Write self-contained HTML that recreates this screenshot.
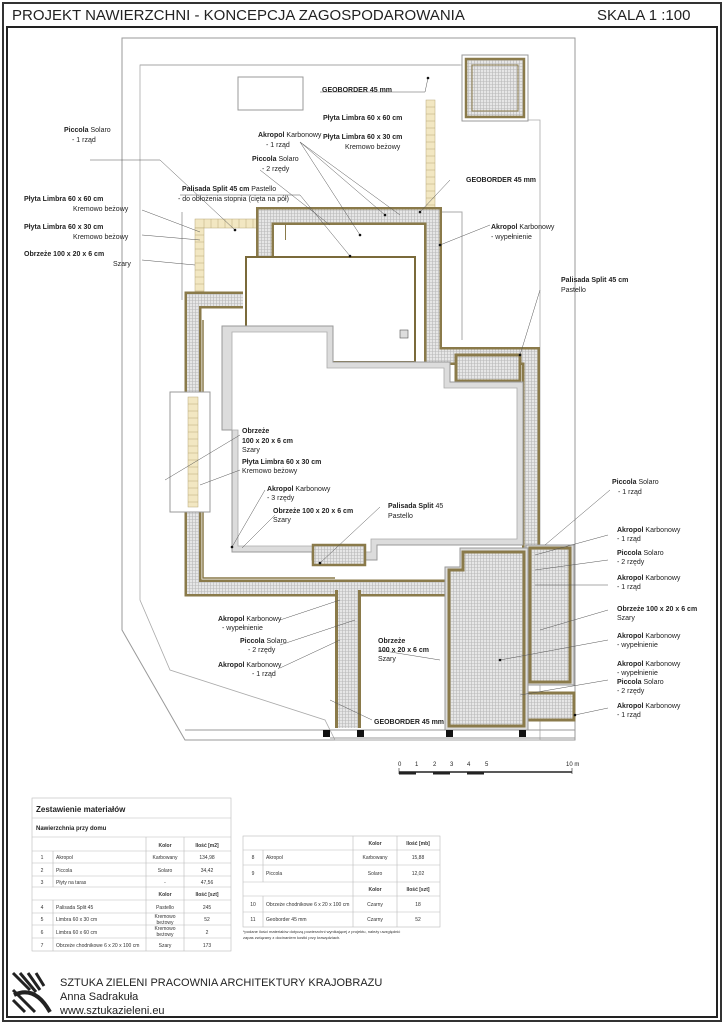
<!DOCTYPE html>
<html><head><meta charset="utf-8"><style>
body{margin:0;background:#fff;}
svg{display:block;font-family:"Liberation Sans",sans-serif;}
.l{font-size:7px;fill:#222}
.b{font-weight:bold}
.t{font-size:5px;fill:#333}
</style></head><body>
<svg width="724" height="1024" viewBox="0 0 724 1024">
<defs>
<pattern id="h" width="3" height="3" patternUnits="userSpaceOnUse">
<rect width="3" height="3" fill="#e6e6e6"/><path d="M0 0.5H3M0.5 0V3" stroke="#b8b8b8" stroke-width="0.6"/>
</pattern>
</defs>
<rect x="0" y="0" width="724" height="1024" fill="#fff"/>
<rect x="3" y="3" width="718" height="1018" fill="none" stroke="#333" stroke-width="2"/>
<rect x="7" y="27" width="710" height="990" fill="none" stroke="#222" stroke-width="2"/>
<text x="12" y="20" font-size="15" fill="#222">PROJEKT NAWIERZCHNI - KONCEPCJA ZAGOSPODAROWANIA</text>
<text x="597" y="20" font-size="15" fill="#222">SKALA 1 :100</text>

<!-- site outline -->
<polygon points="122,38 575,38 575,740 330,740 185,740 122,630" fill="none" stroke="#999" stroke-width="1"/>
<polyline points="140,65 460,65 M140,65" fill="none" stroke="#999"/>
<polygon points="140,65 462,65 462,120 540,120 540,740 335,740 325,720 170,670 140,600" fill="none" stroke="#aaa" stroke-width="0.8"/>
<rect x="238" y="77" width="65" height="33" fill="none" stroke="#999"/>
<rect x="440" y="212" width="22" height="0" stroke="#999"/>
<polyline points="437,212 462,212 462,340" fill="none" stroke="#aaa"/>
<polyline points="182,212 182,300" fill="none" stroke="#aaa"/>

<!-- top right terrace -->
<rect x="462" y="55" width="66" height="66" fill="#fff" stroke="#999"/>
<rect x="466" y="59" width="58" height="58" fill="url(#h)" stroke="#8a7a4a" stroke-width="2.5"/>
<rect x="472" y="65" width="46" height="46" fill="url(#h)" stroke="#8a7a4a" stroke-width="1"/>

<!-- beige tiles -->
<g fill="#f2e7c2" stroke="#b8a878" stroke-width="0.5">
<rect x="426" y="100" width="9" height="110" />
<rect x="195" y="219" width="68" height="9"/>
<rect x="195" y="228" width="9" height="72"/>
</g>
<g stroke="#b8a878" stroke-width="0.5">
<path d="M426 107H435M426 114H435M426 121H435M426 128H435M426 135H435M426 142H435M426 149H435M426 156H435M426 163H435M426 170H435M426 177H435M426 184H435M426 191H435M426 198H435M426 205H435"/>
<path d="M204 219V228M211 219V228M218 219V228M225 219V228M232 219V228M239 219V228M246 219V228M253 219V228"/>
<path d="M195 235H204M195 242H204M195 249H204M195 256H204M195 263H204M195 270H204M195 277H204M195 284H204M195 291H204"/>
</g>

<!-- main path band -->
<g fill="none" stroke-linejoin="miter">
<polyline points="265,298 265,216 433,216 433,356 531,356 531,548" stroke="#8a7a4a" stroke-width="18"/>
<polyline points="265,298 265,216 433,216 433,356 531,356 531,548" stroke="url(#h)" stroke-width="13"/>
<polyline points="286,240 286,225 418,225" stroke="#8a7a4a" stroke-width="2"/>
<polyline points="243,300 193,300 193,588 445,588" stroke="#8a7a4a" stroke-width="17"/>
<polyline points="243,300 193,300 193,588 445,588" stroke="url(#h)" stroke-width="12"/>
<polyline points="203,320 203,578 335,578" stroke="#8a7a4a" stroke-width="1.5"/>
<polyline points="348,590 348,728" stroke="#8a7a4a" stroke-width="26"/>
<polyline points="348,590 348,728" stroke="url(#h)" stroke-width="20"/>
</g>
<rect x="286" y="225" width="132" height="32" fill="#fff"/>
<polyline points="246,257 415,257 415,362" fill="none" stroke="#8a7a4a" stroke-width="2"/>
<rect x="246" y="257" width="169" height="105" fill="#fff" stroke="#7a6a3a" stroke-width="2"/>
<rect x="400" y="330" width="8" height="8" fill="#ddd" stroke="#555" stroke-width="0.6"/>
<rect x="456" y="355" width="64" height="26" fill="url(#h)" stroke="#8a7a4a" stroke-width="3"/>

<!-- left terrace -->
<rect x="170" y="392" width="40" height="120" fill="#fff" stroke="#999"/>
<rect x="188" y="397" width="10" height="110" fill="#f2e7c2" stroke="#b8a878" stroke-width="0.5"/>
<path d="M188 404H198M188 411H198M188 418H198M188 425H198M188 432H198M188 439H198M188 446H198M188 453H198M188 460H198M188 467H198M188 474H198M188 481H198M188 488H198M188 495H198M188 502H198" stroke="#b8a878" stroke-width="0.5"/>

<!-- house -->
<polygon points="222,326 333,326 333,362 450,362 450,382 523,382 523,545 377,545 377,560 312,560 312,552 232,552 232,430 222,430" fill="#dcdcdc" stroke="#999"/>
<polygon points="232,332 327,332 327,368 444,368 444,388 517,388 517,539 371,539 371,552 318,552 318,546 238,546 238,430 232,430" fill="#fff" stroke="#aaa" stroke-width="0.8"/>
<rect x="313" y="545" width="52" height="20" fill="url(#h)" stroke="#8a7a4a" stroke-width="2.5"/>

<!-- right terraces -->
<rect x="526" y="545" width="48" height="140" fill="#dcdcdc" stroke="#999"/>
<rect x="530" y="548" width="40" height="134" fill="url(#h)" stroke="#8a7a4a" stroke-width="3"/>
<rect x="524" y="693" width="50" height="27" fill="url(#h)" stroke="#8a7a4a" stroke-width="3"/>
<polygon points="445,567 460,567 460,548 528,548 528,730 445,730" fill="#dcdcdc" stroke="#999"/>
<polygon points="449,570 463,570 463,552 524,552 524,726 449,726" fill="url(#h)" stroke="#8a7a4a" stroke-width="3"/>
<line x1="185" y1="730" x2="575" y2="730" stroke="#999"/>
<line x1="330" y1="738" x2="575" y2="738" stroke="#999"/>
<g fill="#111"><rect x="323" y="730" width="7" height="7"/><rect x="357" y="730" width="7" height="7"/><rect x="446" y="730" width="7" height="7"/><rect x="519" y="730" width="7" height="7"/></g>

<!-- leaders -->
<g stroke="#555" stroke-width="0.5" fill="none">
<path d="M320 92H425L428 78"/>
<path d="M90 160L160 160L235 230"/>
<path d="M300 142L385 215M300 142L360 235M300 142L400 215"/>
<path d="M260 170L330 225"/>
<path d="M180 195H300L350 256"/>
<path d="M450 180L420 212"/>
<path d="M490 225L440 245"/>
<path d="M142 210L200 232M142 235L200 240M142 260L195 265"/>
<path d="M540 290L520 355"/>
<path d="M240 435L165 480M240 470L200 485"/>
<path d="M265 490L232 547M275 515L242 548"/>
<path d="M380 507L320 563"/>
<path d="M610 490L545 545M608 535L535 555M608 560L535 570M608 585L535 585M608 610L540 630M608 640L500 660M608 680L520 695M608 708L575 715"/>
<path d="M280 620L340 600M280 645L355 620M280 668L340 640"/>
<path d="M378 650L440 660"/>
<path d="M372 720L330 700"/>
</g>
<g fill="#111">
<circle cx="428" cy="78" r="1.3"/><circle cx="235" cy="230" r="1.3"/><circle cx="385" cy="215" r="1.3"/><circle cx="360" cy="235" r="1.3"/><circle cx="350" cy="256" r="1.3"/><circle cx="420" cy="212" r="1.3"/><circle cx="440" cy="245" r="1.3"/><circle cx="520" cy="355" r="1.3"/><circle cx="232" cy="547" r="1.3"/><circle cx="320" cy="563" r="1.3"/><circle cx="500" cy="660" r="1.3"/><circle cx="575" cy="715" r="1.3"/>
</g>

<!-- labels -->
<g class="l">
<text x="322" y="92"><tspan class="b">GEOBORDER 45 mm</tspan></text>
<text x="323" y="120"><tspan class="b">Płyta Limbra 60 x 60 cm</tspan></text>
<text x="323" y="139"><tspan class="b">Płyta Limbra 60 x 30 cm</tspan></text>
<text x="345" y="149">Kremowo beżowy</text>
<text x="64" y="132"><tspan class="b">Piccola</tspan> Solaro</text>
<text x="72" y="142">- 1 rząd</text>
<text x="258" y="137"><tspan class="b">Akropol</tspan> Karbonowy</text>
<text x="266" y="147">- 1 rząd</text>
<text x="252" y="161"><tspan class="b">Piccola</tspan> Solaro</text>
<text x="262" y="171">- 2 rzędy</text>
<text x="466" y="182"><tspan class="b">GEOBORDER 45 mm</tspan></text>
<text x="182" y="191"><tspan class="b">Palisada Split 45 cm</tspan> Pastello</text>
<text x="178" y="201">- do obłożenia stopnia (cięta na pół)</text>
<text x="24" y="201"><tspan class="b">Płyta Limbra 60 x 60 cm</tspan></text>
<text x="73" y="211">Kremowo beżowy</text>
<text x="24" y="229"><tspan class="b">Płyta Limbra 60 x 30 cm</tspan></text>
<text x="73" y="239">Kremowo beżowy</text>
<text x="24" y="256"><tspan class="b">Obrzeże 100 x 20 x 6 cm</tspan></text>
<text x="113" y="266">Szary</text>
<text x="491" y="229"><tspan class="b">Akropol</tspan> Karbonowy</text>
<text x="491" y="239">- wypełnienie</text>
<text x="561" y="282"><tspan class="b">Palisada Split 45 cm</tspan></text>
<text x="561" y="292">Pastello</text>
<text x="242" y="433"><tspan class="b">Obrzeże</tspan></text>
<text x="242" y="443"><tspan class="b">100 x 20 x 6 cm</tspan></text>
<text x="242" y="452">Szary</text>
<text x="242" y="464"><tspan class="b">Płyta Limbra 60 x 30 cm</tspan></text>
<text x="242" y="473">Kremowo beżowy</text>
<text x="267" y="491"><tspan class="b">Akropol</tspan> Karbonowy</text>
<text x="267" y="500">- 3 rzędy</text>
<text x="273" y="513"><tspan class="b">Obrzeże 100 x 20 x 6 cm</tspan></text>
<text x="273" y="522">Szary</text>
<text x="388" y="508"><tspan class="b">Palisada Split</tspan> 45</text>
<text x="388" y="518">Pastello</text>
<text x="612" y="484"><tspan class="b">Piccola</tspan> Solaro</text>
<text x="618" y="494">- 1 rząd</text>
<text x="617" y="532"><tspan class="b">Akropol</tspan> Karbonowy</text>
<text x="617" y="541">- 1 rząd</text>
<text x="617" y="555"><tspan class="b">Piccola</tspan> Solaro</text>
<text x="617" y="564">- 2 rzędy</text>
<text x="617" y="580"><tspan class="b">Akropol</tspan> Karbonowy</text>
<text x="617" y="589">- 1 rząd</text>
<text x="617" y="611"><tspan class="b">Obrzeże 100 x 20 x 6 cm</tspan></text>
<text x="617" y="620">Szary</text>
<text x="617" y="638"><tspan class="b">Akropol</tspan> Karbonowy</text>
<text x="617" y="647">- wypełnienie</text>
<text x="617" y="666"><tspan class="b">Akropol</tspan> Karbonowy</text>
<text x="617" y="675">- wypełnienie</text>
<text x="617" y="684"><tspan class="b">Piccola</tspan> Solaro</text>
<text x="617" y="693">- 2 rzędy</text>
<text x="617" y="708"><tspan class="b">Akropol</tspan> Karbonowy</text>
<text x="617" y="717">- 1 rząd</text>
<text x="218" y="621"><tspan class="b">Akropol</tspan> Karbonowy</text>
<text x="222" y="630">- wypełnienie</text>
<text x="240" y="643"><tspan class="b">Piccola</tspan> Solaro</text>
<text x="248" y="652">- 2 rzędy</text>
<text x="218" y="667"><tspan class="b">Akropol</tspan> Karbonowy</text>
<text x="252" y="676">- 1 rząd</text>
<text x="378" y="643"><tspan class="b">Obrzeże</tspan></text>
<text x="378" y="652"><tspan class="b">100 x 20 x 6 cm</tspan></text>
<text x="378" y="661">Szary</text>
<text x="374" y="724"><tspan class="b">GEOBORDER 45 mm</tspan></text>
</g>

<!-- scale bar -->
<g stroke="#222" fill="none">
<path d="M399 772H572" stroke-width="1.5"/>
<path d="M399 773H416M433 773H450M467 773H484" stroke-width="3"/>
<path d="M399 768V774M572 768V774" stroke-width="0.6"/>
</g>
<g font-size="6" fill="#222">
<text x="398" y="766">0</text><text x="415" y="766">1</text><text x="433" y="766">2</text><text x="450" y="766">3</text><text x="467" y="766">4</text><text x="485" y="766">5</text><text x="566" y="766">10 m</text>
</g>

<!-- left table -->
<g stroke="#bbb" stroke-width="0.6" fill="none">
<rect x="32" y="798" width="199" height="153"/>
<path d="M32 818H231M32 837H231M32 851H231M32 863H231M32 876H231M32 887H231M32 900H231M32 913H231M32 925H231M32 938H231"/>
<path d="M53 851V887M53 900V951M146 837V951M184 837V951"/>
</g>
<text x="36" y="812" font-size="8" font-weight="bold" fill="#222">Zestawienie materiałów</text>
<text x="36" y="830" font-size="6" font-weight="bold" fill="#222">Nawierzchnia przy domu</text>
<g class="t" text-anchor="middle">
<text x="165" y="847" class="b">Kolor</text><text x="207" y="847" class="b">Ilość [m2]</text>
<text x="165" y="896" class="b">Kolor</text><text x="207" y="896" class="b">Ilość [szt]</text>
<text x="42" y="859">1</text><text x="165" y="859">Karbowany</text><text x="207" y="859">134,98</text>
<text x="42" y="872">2</text><text x="165" y="872">Solaro</text><text x="207" y="872">34,42</text>
<text x="42" y="884">3</text><text x="165" y="884">-</text><text x="207" y="884">47,56</text>
<text x="42" y="909">4</text><text x="165" y="909">Pastello</text><text x="207" y="909">245</text>
<text x="42" y="921">5</text><text x="165" y="918">Kremowo</text><text x="165" y="924">beżowy</text><text x="207" y="921">52</text>
<text x="42" y="934">6</text><text x="165" y="930">Kremowo</text><text x="165" y="936">beżowy</text><text x="207" y="934">2</text>
<text x="42" y="947">7</text><text x="165" y="947">Szary</text><text x="207" y="947">173</text>
</g>
<g class="t">
<text x="56" y="859">Akropol</text><text x="56" y="872">Piccola</text><text x="56" y="884">Płyty na taras</text>
<text x="56" y="909">Palisada Split 45</text><text x="56" y="921">Limbra  60 x 30 cm</text><text x="56" y="934">Limbra  60 x 60 cm</text><text x="56" y="947">Obrzeże chodnikowe 6 x 20 x 100 cm</text>
</g>

<!-- right table -->
<g stroke="#bbb" stroke-width="0.6" fill="none">
<rect x="243" y="836" width="197" height="91"/>
<path d="M243 850H440M243 865H440M243 882H440M243 896H440M243 912H440"/>
<path d="M263 850V882M263 896V927M353 836V927M397 836V927"/>
</g>
<g class="t" text-anchor="middle">
<text x="375" y="845" class="b">Kolor</text><text x="418" y="845" class="b">Ilość [mb]</text>
<text x="375" y="891" class="b">Kolor</text><text x="418" y="891" class="b">Ilość [szt]</text>
<text x="253" y="859">8</text><text x="375" y="859">Karbowany</text><text x="418" y="859">15,88</text>
<text x="253" y="875">9</text><text x="375" y="875">Solaro</text><text x="418" y="875">12,02</text>
<text x="253" y="906">10</text><text x="375" y="906">Czarny</text><text x="418" y="906">18</text>
<text x="253" y="921">11</text><text x="375" y="921">Czarny</text><text x="418" y="921">52</text>
</g>
<g class="t">
<text x="266" y="859">Akropol</text><text x="266" y="875">Piccola</text>
<text x="266" y="906">Obrzeże chodnikowe  6 x 20 x 100 cm</text><text x="266" y="921">Geoborder 45 mm</text>
<text x="243" y="933" font-size="4">*podane ilości materiałów dotyczą powierzchni wynikającej z projektu, należy uwzględnić</text>
<text x="243" y="939" font-size="4">zapas związany z docinaniem kostki przy krawędziach.</text>
</g>

<!-- footer -->
<g>
<rect x="13" y="973" width="38" height="40" fill="#fff"/>
<path d="M13 973L30 990M20 973L36 992M28 973L40 990M36 973L44 986M13 990L35 1012M13 1000L25 1012" stroke="#222" stroke-width="3"/>
<path d="M14 995Q35 985 50 1012" stroke="#222" stroke-width="4" fill="none"/>
</g>
<text x="60" y="986" font-size="11" fill="#222">SZTUKA ZIELENI PRACOWNIA ARCHITEKTURY KRAJOBRAZU</text>
<text x="60" y="1000" font-size="11" fill="#222">Anna Sadrakuła</text>
<text x="60" y="1014" font-size="11" fill="#222">www.sztukazieleni.eu</text>
</svg>
</body></html>
